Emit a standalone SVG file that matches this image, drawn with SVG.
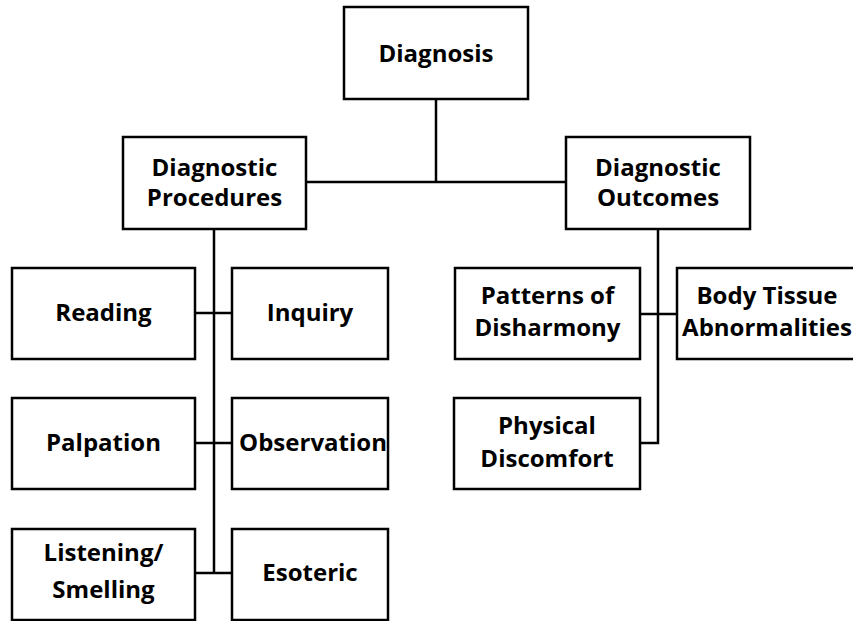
<svg xmlns="http://www.w3.org/2000/svg" width="853" height="621" viewBox="0 0 853 621">
<style>
.box{fill:#fff;stroke:#000;stroke-width:2.5}
.ln{fill:none;stroke:#000;stroke-width:2.5}
text{font-family:"Open Sans","Noto Sans","Liberation Sans",sans-serif;font-weight:bold;font-size:24px;text-anchor:middle;fill:#000}
</style>
<rect width="853" height="621" fill="#fff"/>
<g id="connectors">
<path class="ln" d="M436 99V182M306 182H566"/>
<path class="ln" d="M214 229V573M195 313H232M195 443H232M195 573H232"/>
<path class="ln" d="M658 229V443H640M640 314H677"/>
</g>
<g id="diagnosis"><rect class="box" x="344" y="7" width="184" height="92"/><text x="436" y="62">Diagnosis</text></g>
<g id="procedures"><rect class="box" x="123" y="137" width="183" height="92"/><text x="214.5" y="176">Diagnostic</text><text x="214.5" y="206">Procedures</text></g>
<g id="outcomes"><rect class="box" x="566" y="137" width="184" height="92"/><text x="658" y="176">Diagnostic</text><text x="658" y="206">Outcomes</text></g>
<g id="reading"><rect class="box" x="12" y="268" width="183" height="91"/><text x="103.5" y="321">Reading</text></g>
<g id="inquiry"><rect class="box" x="232" y="268" width="156" height="91"/><text x="310" y="321">Inquiry</text></g>
<g id="palpation"><rect class="box" x="12" y="398" width="183" height="91"/><text x="103.5" y="451">Palpation</text></g>
<g id="observation"><rect class="box" x="232" y="398" width="156" height="91"/><text x="313" y="451">Observation</text></g>
<g id="listening"><rect class="box" x="12" y="529" width="183" height="91"/><text x="103.5" y="561">Listening/</text><text x="103.5" y="598">Smelling</text></g>
<g id="esoteric"><rect class="box" x="232" y="529" width="156" height="91"/><text x="310" y="581">Esoteric</text></g>
<g id="patterns"><rect class="box" x="455" y="268" width="185" height="91"/><text x="547.5" y="304">Patterns of</text><text x="547.5" y="336">Disharmony</text></g>
<g id="bodytissue"><rect class="box" x="677" y="268" width="186" height="91"/><text x="767" y="304">Body Tissue</text><text x="767" y="336">Abnormalities</text></g>
<g id="physical"><rect class="box" x="454" y="398" width="186" height="91"/><text x="547" y="434">Physical</text><text x="547" y="467">Discomfort</text></g>
</svg>
